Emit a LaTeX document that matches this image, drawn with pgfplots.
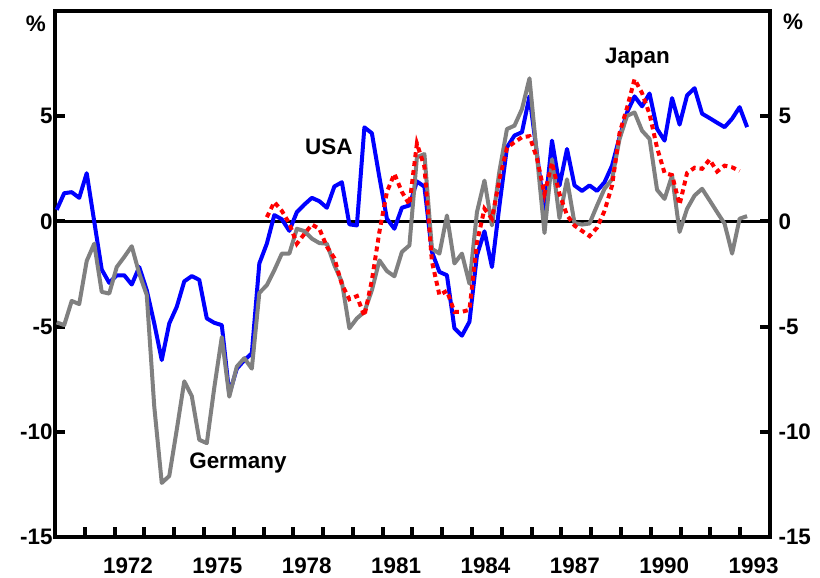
\documentclass[border=0pt]{standalone}
\usepackage{fontspec}
\setmainfont{Liberation Sans}
\usepackage{pgfplots}
\usepackage{pgfplotstable}
\pgfplotsset{compat=1.18}
\definecolor{usablue}{RGB}{0,0,255}
\definecolor{gergray}{RGB}{128,128,128}
\definecolor{jpred}{RGB}{255,0,0}
\newcommand\lbl{\fontsize{22.5}{26}\selectfont\bfseries}

\pgfplotstableread{
i usa ger jpn
0 0.55 -4.8 nan
1 1.34 -4.93 nan
2 1.39 -3.78 nan
3 1.12 -3.93 nan
4 2.29 -1.88 nan
5 0.0 -1.06 nan
6 -2.29 -3.35 nan
7 -2.92 -3.43 nan
8 -2.56 -2.17 nan
9 -2.56 -1.69 nan
10 -3.0 -1.18 nan
11 -2.17 -2.48 nan
12 -3.27 -3.5 nan
13 -4.85 -8.8 nan
14 -6.59 -12.43 nan
15 -4.85 -12.1 nan
16 -4.06 -9.9 nan
17 -2.85 -7.6 nan
18 -2.6 -8.3 nan
19 -2.78 -10.38 nan
20 -4.61 -10.54 nan
21 -4.82 -7.9 nan
22 -4.93 -5.5 nan
23 -8.2 -8.33 nan
24 -7.0 -6.9 nan
25 -6.6 -6.5 nan
26 -6.27 -7.0 nan
27 -2.0 -3.4 nan
28 -1.06 -3.03 0.2
29 0.3 -2.32 0.92
30 0.1 -1.53 0.5
31 -0.45 -1.53 -0.1
32 0.44 -0.35 -1.06
33 0.8 -0.46 -0.6
34 1.12 -0.82 -0.15
35 0.96 -1.03 -0.35
36 0.65 -1.06 -1.2
37 1.66 -2.08 -1.75
38 1.86 -2.88 -3.0
39 -0.14 -5.08 -3.7
40 -0.19 -4.61 -3.55
41 4.47 -4.3 -4.5
42 4.19 -3.27 -2.8
43 2.1 -1.85 -0.5
44 0.13 -2.36 1.4
45 -0.35 -2.61 2.26
46 0.65 -1.45 1.4
47 0.76 -1.14 0.8
48 1.9 3.05 3.7
49 1.65 3.2 2.6
50 -1.45 -1.3 -1.9
51 -2.4 -1.53 -3.5
52 -2.56 0.28 -3.3
53 -5.08 -2.0 -4.3
54 -5.43 -1.53 -4.3
55 -4.77 -2.96 -4.2
56 -1.61 0.44 -1.0
57 -0.47 1.94 0.6
58 -2.17 -0.19 0.13
59 0.76 2.4 2.0
60 3.52 4.39 3.5
61 4.08 4.55 3.76
62 4.24 5.34 4.0
63 5.95 6.8 4.05
64 3.2 3.1 3.0
65 0.4 -0.55 1.3
66 3.84 2.95 2.8
67 1.7 0.15 1.3
68 3.44 2.0 0.3
69 1.71 -0.08 -0.2
70 1.45 -0.15 -0.45
71 1.71 -0.1 -0.7
72 1.45 0.75 -0.3
73 1.86 1.55 0.5
74 2.65 2.0 1.7
75 4.0 3.92 4.2
76 5.18 5.02 5.4
77 5.94 5.18 6.76
78 5.47 4.31 6.1
79 6.08 3.92 5.1
80 4.4 1.5 3.5
81 3.84 1.07 2.3
82 5.86 2.18 2.2
83 4.6 -0.5 0.8
84 5.99 0.6 2.3
85 6.33 1.23 2.55
86 5.12 1.55 2.5
87 4.91 1.0 2.94
88 4.69 0.44 2.37
89 4.48 -0.11 2.65
90 4.88 -1.53 2.57
91 5.43 0.13 2.4
92 4.48 0.25 nan
}\datatable

\begin{document}
\begin{tikzpicture}
\path[use as bounding box] (-55bp,-41bp) rectangle (765bp,537bp);
\begin{axis}[
  at={(0,0)}, anchor=south west,
  scale only axis, width=715bp, height=526bp,
  xmin=1970, xmax=1994, ymin=-15, ymax=10,
  clip=false,
  axis line style={line width=4bp},
  xtick={1972,1975,...,1993},
  xticklabels={1972,1975,1978,1981,1984,1987,1990,1993},
  minor xtick={1971,...,1993},
  xtick pos=left,
  ytick={-15,-10,-5,0,5},
  yticklabels={-15,-10,-5,0,5},
  ytick pos=left,
  tick align=inside,
  major tick length=10bp, minor tick length=10bp,
  tick style={black, line width=4bp},
  ticklabel style={font=\lbl},
  y tick label style={xshift=1bp},
  x tick label style={xshift=13.4bp, yshift=-17bp},
]
\addplot[black, line width=3.7bp, forget plot] coordinates {(1970,0) (1994,0)};
\addplot[usablue, line width=4bp, line join=round] table[x expr=1970.057+0.2519*\thisrow{i}, y=usa] {\datatable};
\addplot[gergray, line width=4bp, line join=round] table[x expr=1970.057+0.2519*\thisrow{i}, y=ger] {\datatable};
\addplot[jpred, line width=4bp, dash pattern=on 5bp off 4bp] table[x expr=1970.057+0.2519*\thisrow{i}, y=jpn] {\datatable};
\node[font=\lbl, anchor=base] at (axis cs:1979.19,3.18) {USA};
\node[font=\lbl, anchor=base] at (axis cs:1989.55,7.51) {Japan};
\node[font=\lbl, anchor=base] at (axis cs:1976.14,-11.75) {Germany};
\node[font=\lbl, anchor=east, inner sep=0pt, xshift=-9bp, yshift=-13bp] at (rel axis cs:0,1) {\%};
\node[font=\lbl, anchor=west, inner sep=0pt, xshift=13bp, yshift=-11bp] at (rel axis cs:1,1) {\%};
\end{axis}
\begin{axis}[
  at={(0,0)}, anchor=south west,
  scale only axis, width=715bp, height=526bp,
  xmin=1970, xmax=1994, ymin=-15, ymax=10,
  axis x line=none, axis y line*=right,
  y axis line style={-, line width=4bp},
  ytick={-15,-10,-5,0,5},
  yticklabels={-15,-10,-5,0,5},
  tick align=inside,
  major tick length=10bp,
  tick style={black, line width=4bp},
  ticklabel style={font=\lbl},
  y tick label style={xshift=5bp},
]
\end{axis}
\end{tikzpicture}
\end{document}
